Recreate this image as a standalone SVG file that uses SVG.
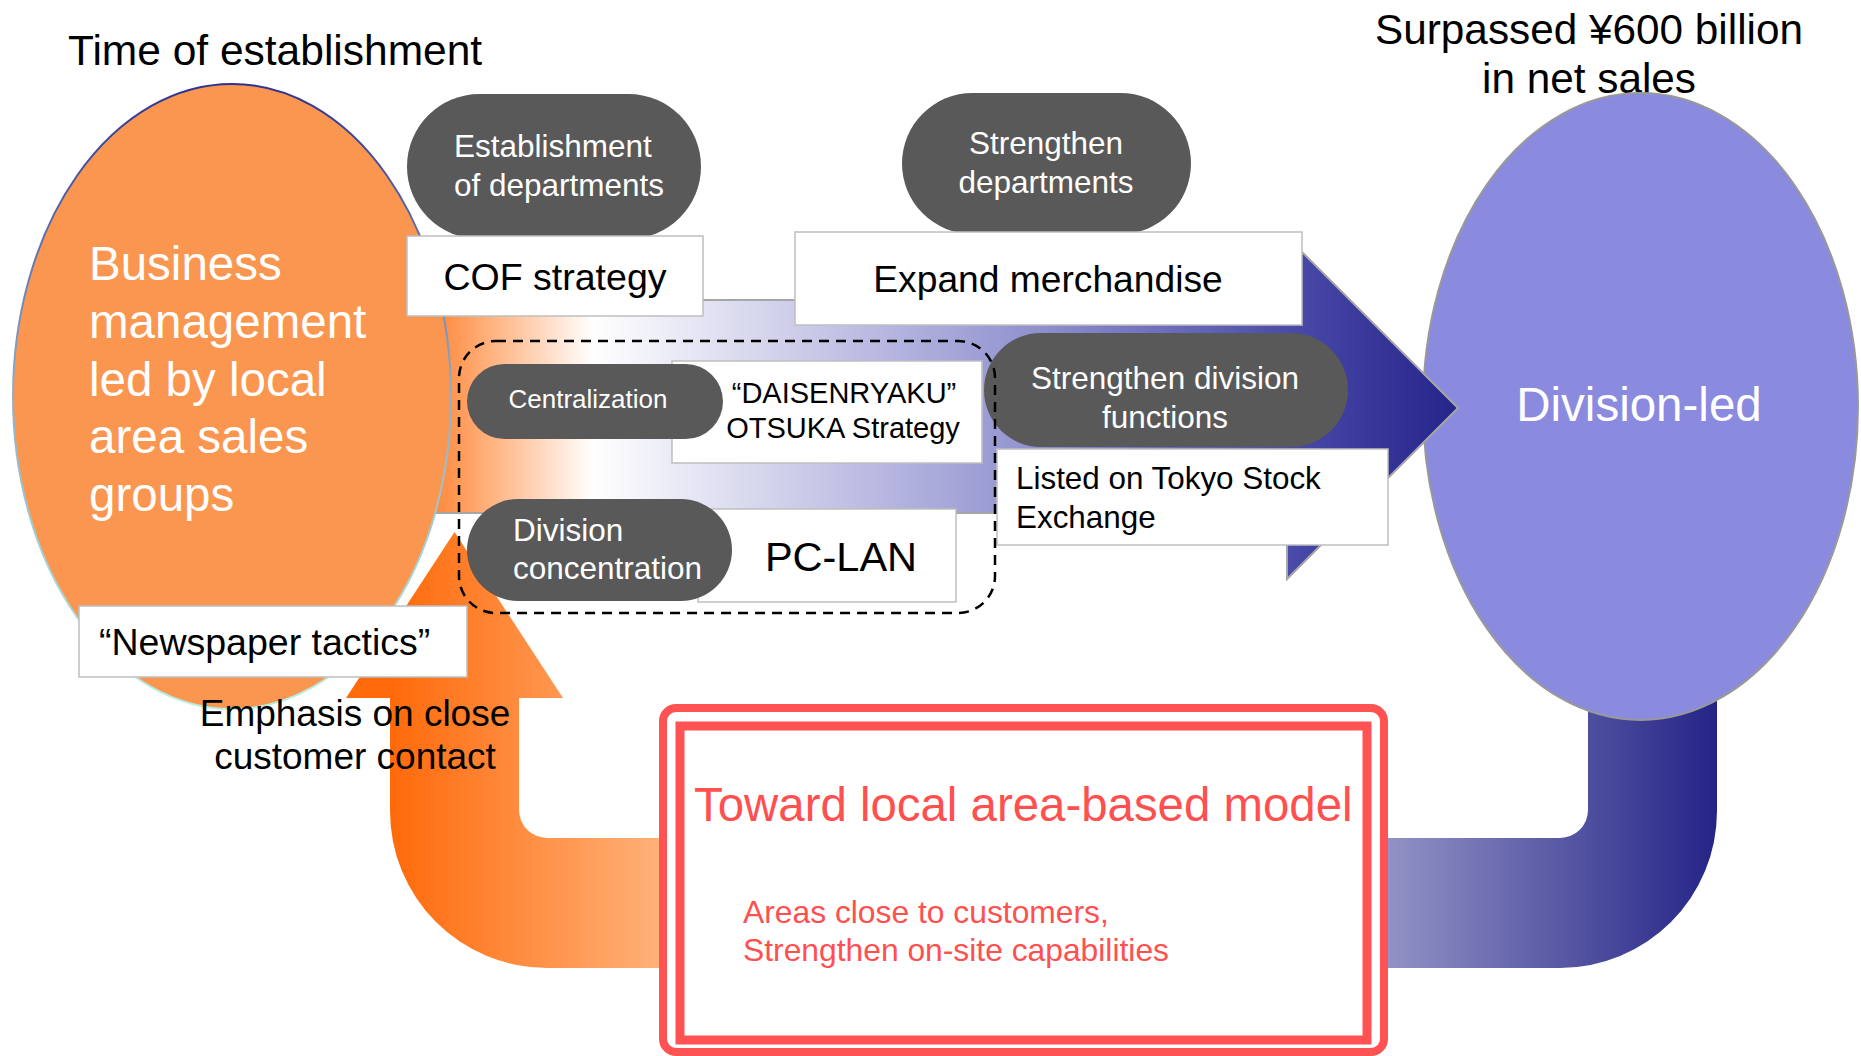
<svg xmlns="http://www.w3.org/2000/svg" width="1861" height="1056" viewBox="0 0 1861 1056">
<defs>
<linearGradient id="gMain" gradientUnits="userSpaceOnUse" x1="437" y1="0" x2="1458" y2="0">
<stop offset="0" stop-color="#FF8A3D"/>
<stop offset="0.153" stop-color="#FFFFFF"/>
<stop offset="0.551" stop-color="#9A9AD4"/>
<stop offset="0.845" stop-color="#4848A8"/>
<stop offset="1" stop-color="#24248A"/>
</linearGradient>
<linearGradient id="gOrange" gradientUnits="userSpaceOnUse" x1="390" y1="0" x2="672" y2="0">
<stop offset="0" stop-color="#FF6A0A"/>
<stop offset="1" stop-color="#FFB47E"/>
</linearGradient>
<linearGradient id="gBlue" gradientUnits="userSpaceOnUse" x1="1376" y1="0" x2="1717" y2="0">
<stop offset="0" stop-color="#9696C8"/>
<stop offset="1" stop-color="#242487"/>
</linearGradient>
<linearGradient id="gEdge" x1="0" y1="0" x2="0" y2="1">
<stop offset="0" stop-color="#2E3192"/>
<stop offset="0.5" stop-color="#8FB0C8"/>
<stop offset="1" stop-color="#B8F0E0"/>
</linearGradient>
<style>
text{font-family:"Liberation Sans",Arial,sans-serif;}
.box{fill:#FFFFFF;stroke:#BFBFBF;stroke-width:1.5;}
.pill{fill:#595959;}
.wt{fill:#FFFFFF;}
.bt{fill:#000000;}
.mid{text-anchor:middle;}
.red{fill:#FF5050;}
</style>
</defs>

<g id="title-left"><text x="68" y="65" font-size="42.5" class="bt">Time of establishment</text></g>
<g id="title-right">
<text x="1589" y="44" font-size="42.3" class="bt mid">Surpassed ¥600 billion</text>
<text x="1589" y="93" font-size="42.3" class="bt mid">in net sales</text>
</g>

<g id="connectors">
<path id="u-blue" d="M1588 680 L1588 810 A28 28 0 0 1 1560 838 L1376 838 L1376 968 L1560 968 A157 157 0 0 0 1717 811 L1717 680 Z" fill="url(#gBlue)"/>
</g>

<g id="node-division-led">
<ellipse cx="1640.5" cy="406.5" rx="217.5" ry="313.5" fill="#8A8ADF" stroke="#999999" stroke-width="2"/>
<text x="1639" y="421" font-size="47.5" class="wt mid">Division-led</text>
</g>

<g id="main-arrow">
<path d="M380 300 L1287 300 L1287 237 L1458 408 L1287 579 L1287 513 L380 513 Z" fill="url(#gMain)" stroke="#A6A6A6" stroke-width="2"/>
</g>

<g id="node-local">
<ellipse cx="232" cy="396.5" rx="219" ry="312.5" fill="#FB9650" stroke="url(#gEdge)" stroke-width="2"/>
<text font-size="47.5" class="wt">
<tspan x="89" y="280">Business</tspan>
<tspan x="89" y="338">management</tspan>
<tspan x="89" y="396">led by local</tspan>
<tspan x="89" y="453">area sales</tspan>
<tspan x="89" y="511">groups</tspan>
</text>
</g>

<g id="u-orange">
<path d="M454.5 532 L563 698 L519 698 L519 810 A28 28 0 0 0 547 838 L672 838 L672 968 L547 968 A157 157 0 0 1 390 811 L390 698 L346 698 Z" fill="url(#gOrange)"/>
</g>

<g id="node-toward">
<rect x="663" y="708" width="721" height="344" rx="13" fill="#FFFFFF" stroke="#FF5252" stroke-width="8"/>
<rect x="680" y="726" width="687" height="314" fill="none" stroke="#FF5252" stroke-width="9"/>
<text x="694" y="821" font-size="47.4" class="red">Toward local area-based model</text>
<text x="743" y="923" font-size="31.8" class="red">Areas close to customers,</text>
<text x="743" y="961" font-size="31.8" class="red">Strengthen on-site capabilities</text>
</g>

<g id="label-emphasis">
<text x="355" y="726" font-size="37" class="bt mid">Emphasis on close</text>
<text x="355" y="769" font-size="37" class="bt mid">customer contact</text>
</g>

<g id="node-establishment">
<rect x="407" y="94" width="294" height="145" rx="72.5" class="pill"/>
<text x="454" y="157" font-size="31.5" class="wt">Establishment</text>
<text x="454" y="196" font-size="31.5" class="wt">of departments</text>
</g>
<g id="node-cof">
<rect x="407" y="236" width="296" height="80" class="box"/>
<text x="555" y="290" font-size="37.5" class="bt mid">COF strategy</text>
</g>

<g id="node-strengthen-dept">
<rect x="902" y="93" width="289" height="141" rx="70.5" class="pill"/>
<text x="1046" y="154" font-size="31.5" class="wt mid">Strengthen</text>
<text x="1046" y="193" font-size="31.5" class="wt mid">departments</text>
</g>
<g id="node-expand">
<rect x="795" y="232" width="507" height="93" class="box"/>
<text x="1048" y="292" font-size="37.2" class="bt mid">Expand merchandise</text>
</g>

<g id="node-daisenryaku">
<rect x="672" y="361" width="310" height="102" class="box"/>
<text x="844" y="403" font-size="29" class="bt mid">“DAISENRYAKU”</text>
<text x="843" y="438" font-size="29" class="bt mid">OTSUKA Strategy</text>
</g>
<g id="node-centralization">
<rect x="467" y="364" width="256" height="75" rx="37.5" class="pill"/>
<text x="588" y="408" font-size="26" class="wt mid">Centralization</text>
</g>

<g id="node-pclan">
<rect x="698" y="509" width="258" height="93" class="box"/>
<text x="841" y="571" font-size="41.5" class="bt mid">PC-LAN</text>
</g>
<g id="node-division-conc">
<rect x="467" y="499" width="265" height="102" rx="51" class="pill"/>
<text x="513" y="541" font-size="31.5" class="wt">Division</text>
<text x="513" y="579" font-size="31.5" class="wt">concentration</text>
</g>

<g id="node-listed">
<rect x="997" y="449" width="391" height="96" class="box"/>
<text x="1016" y="489" font-size="31.4" class="bt">Listed on Tokyo Stock</text>
<text x="1016" y="528" font-size="31.4" class="bt">Exchange</text>
</g>
<g id="node-strengthen-div">
<rect x="984" y="333" width="364" height="114" rx="57" class="pill"/>
<text x="1165" y="389" font-size="31.5" class="wt mid">Strengthen division</text>
<text x="1165" y="428" font-size="31.5" class="wt mid">functions</text>
</g>

<g id="node-newspaper">
<rect x="79" y="606" width="388" height="71" class="box"/>
<text x="99" y="655" font-size="37.5" class="bt">“Newspaper tactics”</text>
</g>

<g id="group-dashed">
<rect x="459" y="341" width="536" height="272" rx="37" fill="none" stroke="#000000" stroke-width="2.5" stroke-dasharray="10 7"/>
</g>
</svg>
